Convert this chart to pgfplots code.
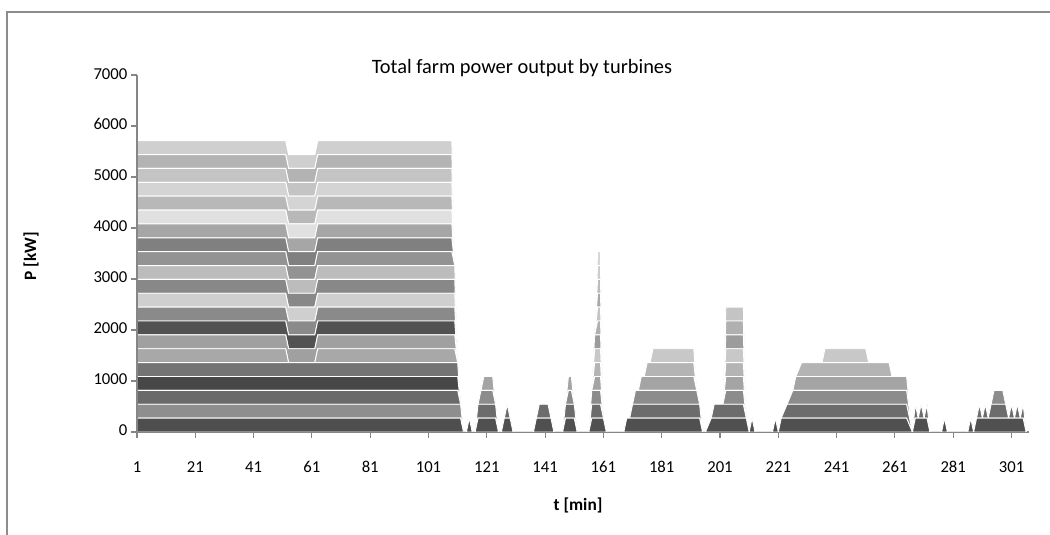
\documentclass[border=0pt]{standalone}
\usepackage{fontspec}
\setmainfont{Carlito}
\usepackage{pgfplots}
\usepackage{pgfplotstable}
\pgfplotsset{compat=1.18}

\definecolor{axisgray}{HTML}{868686}
\definecolor{framegray}{HTML}{8C8C8C}
\definecolor{zeroline}{HTML}{3C3C3C}
% left-part turbine colours (bottom to top)
\definecolor{c1}{HTML}{4E4E4E}
\definecolor{c2}{HTML}{8E8E8E}
\definecolor{c3}{HTML}{6A6A6A}
\definecolor{c4}{HTML}{474747}
\definecolor{c5}{HTML}{747474}
\definecolor{c6}{HTML}{A8A8A8}
\definecolor{c7}{HTML}{A0A0A0}
\definecolor{c8}{HTML}{525252}
\definecolor{c9}{HTML}{8A8A8A}
\definecolor{c10}{HTML}{CFCFCF}
\definecolor{c11}{HTML}{888888}
\definecolor{c12}{HTML}{BCBCBC}
\definecolor{c13}{HTML}{939393}
\definecolor{c14}{HTML}{808080}
\definecolor{c15}{HTML}{A6A6A6}
\definecolor{c16}{HTML}{E0E0E0}
\definecolor{c17}{HTML}{B8B8B8}
\definecolor{c18}{HTML}{D4D4D4}
\definecolor{c19}{HTML}{C4C4C4}
\definecolor{c20}{HTML}{B3B3B3}
\definecolor{c21}{HTML}{CFCFCF}
% right-part turbine colours
\definecolor{d1}{HTML}{505050}
\definecolor{d2}{HTML}{6C6C6C}
\definecolor{d3}{HTML}{8C8C8C}
\definecolor{d4}{HTML}{A4A4A4}
\definecolor{d5}{HTML}{B4B4B4}
\definecolor{d6}{HTML}{C8C8C8}
\definecolor{d7}{HTML}{9C9C9C}
\definecolor{d8}{HTML}{B0B0B0}
\definecolor{d9}{HTML}{C4C4C4}
\definecolor{d10}{HTML}{A8A8A8}
\definecolor{d11}{HTML}{BCBCBC}
\definecolor{d12}{HTML}{CCCCCC}
\definecolor{d13}{HTML}{D6D6D6}

% power per turbine [kW], minutes 1-113
\pgfplotstableread{
t a1 a2 a3 a4 a5 a6 a7 a8 a9 a10 a11 a12 a13 a14 a15 a16 a17 a18 a19 a20 a21
1 272 272 272 272 272 272 272 272 272 272 272 272 272 272 272 272 272 272 272 272 272
52 272 272 272 272 272 272 272 272 272 272 272 272 272 272 272 272 272 272 272 272 272
53 272 272 272 272 272 0 272 272 272 272 272 272 272 272 272 272 272 272 272 272 272
62 272 272 272 272 272 0 272 272 272 272 272 272 272 272 272 272 272 272 272 272 272
63 272 272 272 272 272 272 272 272 272 272 272 272 272 272 272 272 272 272 272 272 272
109 272 272 272 272 272 272 272 272 272 272 272 272 272 272 272 272 272 272 272 272 272
110 272 272 272 272 272 272 272 272 272 272 272 272 0 0 0 0 0 0 0 0 0
111 272 272 272 272 272 0 0 0 0 0 0 0 0 0 0 0 0 0 0 0 0
112 272 272 0 0 0 0 0 0 0 0 0 0 0 0 0 0 0 0 0 0 0
113 0 0 0 0 0 0 0 0 0 0 0 0 0 0 0 0 0 0 0 0 0
}\lefttab

% power per turbine [kW], minutes 113-306
\pgfplotstableread{
t b1 b2 b3 b4 b5 b6 b7 b8 b9 b10 b11 b12 b13
113 0 0 0 0 0 0 0 0 0 0 0 0 0
114 0 0 0 0 0 0 0 0 0 0 0 0 0
115 272 0 0 0 0 0 0 0 0 0 0 0 0
116 0 0 0 0 0 0 0 0 0 0 0 0 0
117 0 0 0 0 0 0 0 0 0 0 0 0 0
118 272 272 0 0 0 0 0 0 0 0 0 0 0
119 272 272 272 0 0 0 0 0 0 0 0 0 0
120 272 272 272 272 0 0 0 0 0 0 0 0 0
123 272 272 272 272 0 0 0 0 0 0 0 0 0
124 272 272 0 0 0 0 0 0 0 0 0 0 0
125 0 0 0 0 0 0 0 0 0 0 0 0 0
126 0 0 0 0 0 0 0 0 0 0 0 0 0
127 272 0 0 0 0 0 0 0 0 0 0 0 0
128 272 272 0 0 0 0 0 0 0 0 0 0 0
129 272 0 0 0 0 0 0 0 0 0 0 0 0
130 0 0 0 0 0 0 0 0 0 0 0 0 0
137 0 0 0 0 0 0 0 0 0 0 0 0 0
138 272 0 0 0 0 0 0 0 0 0 0 0 0
139 272 272 0 0 0 0 0 0 0 0 0 0 0
142 272 272 0 0 0 0 0 0 0 0 0 0 0
143 272 0 0 0 0 0 0 0 0 0 0 0 0
144 0 0 0 0 0 0 0 0 0 0 0 0 0
147 0 0 0 0 0 0 0 0 0 0 0 0 0
148 272 272 0 0 0 0 0 0 0 0 0 0 0
149 272 272 272 272 0 0 0 0 0 0 0 0 0
150 272 272 272 272 0 0 0 0 0 0 0 0 0
151 272 272 0 0 0 0 0 0 0 0 0 0 0
152 0 0 0 0 0 0 0 0 0 0 0 0 0
156 0 0 0 0 0 0 0 0 0 0 0 0 0
157 272 272 272 0 0 0 0 0 0 0 0 0 0
158 272 272 272 272 272 272 272 0 0 0 0 0 0
159 272 272 272 272 272 272 272 272 272 272 272 272 272
160 272 272 272 272 272 272 272 272 272 272 272 272 272
161 272 0 0 0 0 0 0 0 0 0 0 0 0
162 0 0 0 0 0 0 0 0 0 0 0 0 0
168 0 0 0 0 0 0 0 0 0 0 0 0 0
169 272 0 0 0 0 0 0 0 0 0 0 0 0
170 272 0 0 0 0 0 0 0 0 0 0 0 0
171 272 272 0 0 0 0 0 0 0 0 0 0 0
172 272 272 272 0 0 0 0 0 0 0 0 0 0
173 272 272 272 0 0 0 0 0 0 0 0 0 0
174 272 272 272 272 0 0 0 0 0 0 0 0 0
175 272 272 272 272 0 0 0 0 0 0 0 0 0
176 272 272 272 272 272 0 0 0 0 0 0 0 0
177 272 272 272 272 272 0 0 0 0 0 0 0 0
178 272 272 272 272 272 272 0 0 0 0 0 0 0
192 272 272 272 272 272 272 0 0 0 0 0 0 0
193 272 272 272 0 0 0 0 0 0 0 0 0 0
194 272 272 0 0 0 0 0 0 0 0 0 0 0
195 0 0 0 0 0 0 0 0 0 0 0 0 0
196 0 0 0 0 0 0 0 0 0 0 0 0 0
198 272 0 0 0 0 0 0 0 0 0 0 0 0
199 272 272 0 0 0 0 0 0 0 0 0 0 0
202 272 272 0 0 0 0 0 0 0 0 0 0 0
203 272 272 272 272 272 272 272 272 272 0 0 0 0
209 272 272 272 272 272 272 272 272 272 0 0 0 0
210 272 0 0 0 0 0 0 0 0 0 0 0 0
211 0 0 0 0 0 0 0 0 0 0 0 0 0
212 272 0 0 0 0 0 0 0 0 0 0 0 0
213 0 0 0 0 0 0 0 0 0 0 0 0 0
219 0 0 0 0 0 0 0 0 0 0 0 0 0
220 272 0 0 0 0 0 0 0 0 0 0 0 0
221 0 0 0 0 0 0 0 0 0 0 0 0 0
222 272 0 0 0 0 0 0 0 0 0 0 0 0
224 272 272 0 0 0 0 0 0 0 0 0 0 0
226 272 272 272 0 0 0 0 0 0 0 0 0 0
227 272 272 272 272 0 0 0 0 0 0 0 0 0
229 272 272 272 272 272 0 0 0 0 0 0 0 0
236 272 272 272 272 272 0 0 0 0 0 0 0 0
237 272 272 272 272 272 272 0 0 0 0 0 0 0
251 272 272 272 272 272 272 0 0 0 0 0 0 0
252 272 272 272 272 272 0 0 0 0 0 0 0 0
259 272 272 272 272 272 0 0 0 0 0 0 0 0
260 272 272 272 272 0 0 0 0 0 0 0 0 0
265 272 272 272 272 0 0 0 0 0 0 0 0 0
267 0 0 0 0 0 0 0 0 0 0 0 0 0
268 272 272 0 0 0 0 0 0 0 0 0 0 0
269 272 0 0 0 0 0 0 0 0 0 0 0 0
270 272 272 0 0 0 0 0 0 0 0 0 0 0
271 272 0 0 0 0 0 0 0 0 0 0 0 0
272 272 272 0 0 0 0 0 0 0 0 0 0 0
273 0 0 0 0 0 0 0 0 0 0 0 0 0
277 0 0 0 0 0 0 0 0 0 0 0 0 0
278 272 0 0 0 0 0 0 0 0 0 0 0 0
279 0 0 0 0 0 0 0 0 0 0 0 0 0
286 0 0 0 0 0 0 0 0 0 0 0 0 0
287 272 0 0 0 0 0 0 0 0 0 0 0 0
288 0 0 0 0 0 0 0 0 0 0 0 0 0
289 272 0 0 0 0 0 0 0 0 0 0 0 0
290 272 272 0 0 0 0 0 0 0 0 0 0 0
291 272 0 0 0 0 0 0 0 0 0 0 0 0
292 272 272 0 0 0 0 0 0 0 0 0 0 0
293 272 0 0 0 0 0 0 0 0 0 0 0 0
294 272 272 0 0 0 0 0 0 0 0 0 0 0
295 272 272 272 0 0 0 0 0 0 0 0 0 0
298 272 272 272 0 0 0 0 0 0 0 0 0 0
299 272 272 0 0 0 0 0 0 0 0 0 0 0
300 272 0 0 0 0 0 0 0 0 0 0 0 0
301 272 272 0 0 0 0 0 0 0 0 0 0 0
302 272 0 0 0 0 0 0 0 0 0 0 0 0
303 272 272 0 0 0 0 0 0 0 0 0 0 0
304 272 0 0 0 0 0 0 0 0 0 0 0 0
305 272 272 0 0 0 0 0 0 0 0 0 0 0
306 0 0 0 0 0 0 0 0 0 0 0 0 0
}\righttab

\pgfplotsset{
  base/.style={
    at={(102.75pt,77.25pt)}, anchor=south west, scale only axis,
    width=669pt, height=267.75pt,
    xmin=1, xmax=307, ymin=0, ymax=7000,
  },
  hidden/.style={base, hide axis, stack plots=y},
}

\begin{document}
\begin{tikzpicture}[x=0.75pt,y=0.75pt]
\useasboundingbox (0,0) rectangle (1050,535);
\draw[framegray, line width=1.1pt] (7,-10) -- (7,523) -- (1070,523);

% frame axis (ticks and labels)
\begin{axis}[base,
  axis x line=bottom, axis y line=left,
  axis line style={draw=axisgray, line width=0.9pt, -},
  xtick={1,21,...,301}, ytick={0,1000,...,7000},
  tick align=outside, major tick length=4.5pt,
  every tick/.style={draw=axisgray, line width=0.8pt},
  tick label style={font=\fontsize{12.5}{15}\selectfont},
  typeset ticklabels with strut,
  /pgf/number format/assume math mode=true,
  /pgf/number format/1000 sep={},
  xticklabel style={yshift=-11.5pt},
  yticklabel style={xshift=0.75pt},
]
\end{axis}

% dark baseline under zero stretches
\begin{axis}[base, hide axis]
\addplot[zeroline, line width=1.8pt] coordinates {(110,0) (306,0)};
\end{axis}

% minutes 1-113
\begin{axis}[hidden]
\pgfplotsinvokeforeach{1,...,21}{
  \addplot[fill=c#1, draw=white, line width=0.7pt] table[x=t, y=a#1]{\lefttab} \closedcycle;
}
\end{axis}

% minutes 113-306
\begin{axis}[hidden]
\pgfplotsinvokeforeach{1,...,13}{
  \addplot[fill=d#1, draw=white, line width=0.7pt] table[x=t, y=b#1]{\righttab} \closedcycle;
}
\end{axis}

% y axis line redrawn on top of the areas
\begin{axis}[base,
  axis x line=none, axis y line=left,
  axis line style={draw=axisgray, line width=0.9pt, -},
  ytick=\empty,
]
\end{axis}

\node[font=\fontsize{15.3}{18}\selectfont] at (522,467) {Total farm power output by turbines};
\node[font=\bfseries\fontsize{13}{15}\selectfont, rotate=90] at (31,279) {P [kW]};
\node[font=\bfseries\fontsize{13}{15}\selectfont] at (578,30) {t [min]};
\end{tikzpicture}
\end{document}
